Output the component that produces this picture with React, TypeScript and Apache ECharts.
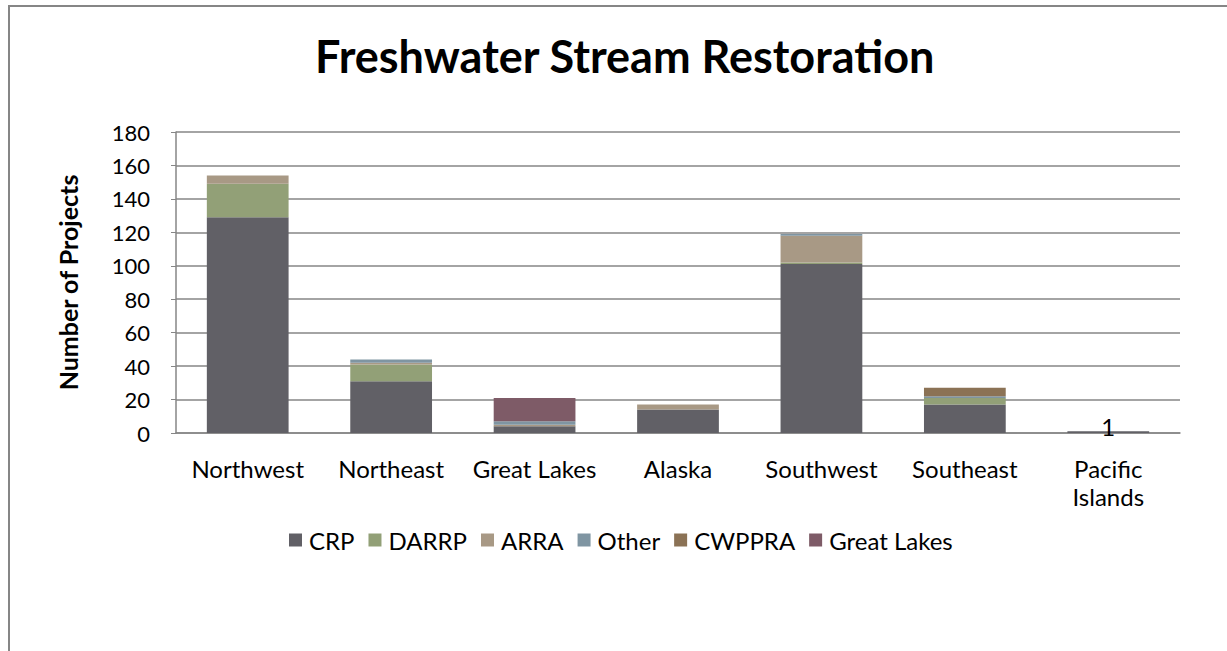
import React, { useEffect, useRef } from "react";
import * as echarts from "echarts";

const categories = ["Northwest", "Northeast", "Great Lakes", "Alaska", "Southwest", "Southeast", "Pacific\nIslands"];
const crp = [129, 31, 4, 14, 101, 17, 1];
const darrp = [20, 10, 0, 0, 1, 4, 0];
const arra = [5, 1, 1, 3, 16, 0, 0];
const other = [0, 2, 2, 0, 1, 1, 0];
const cwppra = [0, 0, 0, 0, 0, 5, 0];
const greatLakes = [0, 0, 14, 0, 0, 0, 0];
const yTicks = [0, 20, 40, 60, 80, 100, 120, 140, 160, 180];

const FONT = "Lato, 'Open Sans', sans-serif";

export default function App() {
  const ref = useRef<HTMLDivElement>(null);
  useEffect(() => {
    if (!ref.current) return;
    const chart = echarts.init(ref.current, undefined, { renderer: "svg" });
    const mk = (name: string, data: number[], color: string, labelIdx?: number) => ({
      name,
      type: "bar",
      stack: "total",
      barCategoryGap: "43%",
      data: data.map((v, i) =>
        labelIdx === i
          ? {
              value: v,
              label: {
                show: true,
                position: "top",
                distance: 0,
                offset: [0, 7],
                fontSize: 24,
                color: "#000",
                fontFamily: FONT,
              },
            }
          : v
      ),
      itemStyle: { color },
    });
    chart.setOption({
      animation: false,
      textStyle: { fontFamily: FONT },
      title: {
        text: "Freshwater Stream Restoration",
        left: 310,
        top: 28,
        textStyle: { fontSize: 45, fontWeight: "bold", color: "#000", fontFamily: FONT },
      },
      graphic: [
        {
          type: "rect",
          shape: { x: 9, y: 6, width: 1300, height: 700 },
          style: { fill: "none", stroke: "#868686", lineWidth: 2 },
          silent: true,
        },
      ],
      legend: {
        top: 523,
        left: 284,
        itemWidth: 13,
        itemHeight: 13,
        itemGap: 14,
        icon: "rect",
        textStyle: { fontSize: 24, color: "#000", fontFamily: FONT, padding: [0, 0, 0, 2] },
        data: ["CRP", "DARRP", "ARRA", "Other", "CWPPRA", "Great Lakes"],
      },
      grid: { left: 176, right: 47, top: 132, bottom: 218, containLabel: false },
      xAxis: {
        type: "category",
        data: categories,
        axisLine: { lineStyle: { color: "#868686", width: 1.5 } },
        axisTick: { show: false },
        axisLabel: { interval: 0, fontSize: 24, color: "#000", margin: 21, lineHeight: 28, fontFamily: FONT },
      },
      yAxis: {
        type: "value",
        min: yTicks[0],
        max: yTicks[yTicks.length - 1],
        interval: 20,
        name: "Number of Projects",
        nameLocation: "middle",
        nameGap: 96,
        nameTextStyle: { fontSize: 25, fontWeight: "bold", color: "#000", fontFamily: FONT },
        axisLine: { show: true, lineStyle: { color: "#868686", width: 1.5 } },
        axisTick: { show: true, length: 5, lineStyle: { color: "#868686" } },
        axisLabel: { fontSize: 22, color: "#000", margin: 26, fontFamily: FONT },
        splitLine: { lineStyle: { color: "#868686", width: 1.5 } },
      },
      series: [
        mk("CRP", crp, "#616066", 6),
        mk("DARRP", darrp, "#92a077"),
        mk("ARRA", arra, "#a89985"),
        mk("Other", other, "#7f95a2"),
        mk("CWPPRA", cwppra, "#8b7255"),
        mk("Great Lakes", greatLakes, "#7e5b67"),
      ],
    });
    return () => chart.dispose();
  }, []);
  return (
    <div
      ref={ref}
      style={{ position: "absolute", left: 0, top: 0, width: 1227, height: 651, background: "#fff" }}
    />
  );
}
